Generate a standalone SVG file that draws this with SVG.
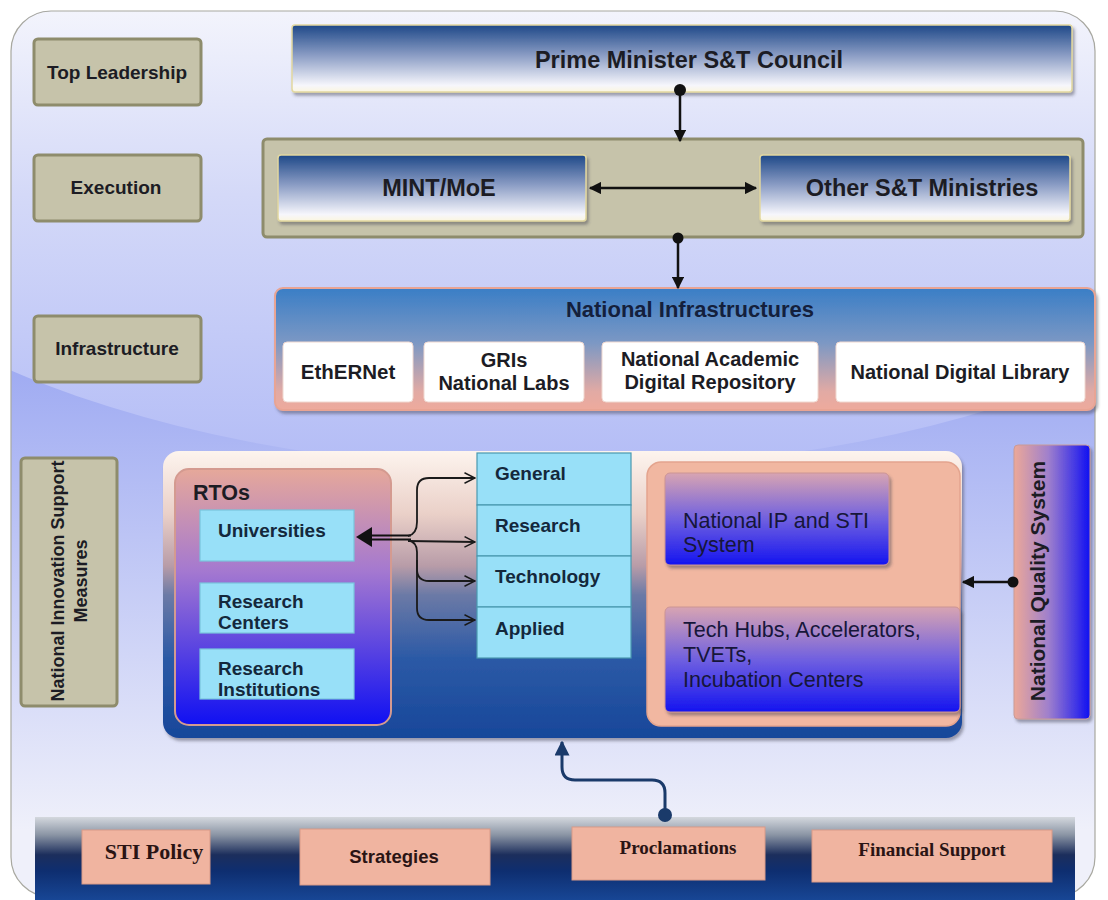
<svg xmlns="http://www.w3.org/2000/svg" width="1108" height="900" viewBox="0 0 1108 900">
<defs>
<style>
.t{font-family:"Liberation Sans",Arial,sans-serif;font-weight:bold;fill:#1c1c24}
.n{font-family:"Liberation Sans",Arial,sans-serif;font-weight:normal;fill:#16163a}
.s{font-family:"Liberation Serif","Times New Roman",serif;font-weight:bold;fill:#2a1414}
.lbl{fill:#c6c3aa;stroke:#8e8c6c;stroke-width:3}
.blue{fill:url(#gBlue);stroke:#e2d8a0;stroke-width:1.5}
.white{fill:#ffffff;stroke:#f0d8d0;stroke-width:1}
.cyan{fill:#98e0f8;stroke:#78c4dc;stroke-width:1.2}
.cell{fill:#98e0f8;stroke:#4a98b0;stroke-width:1.2}
.peach{fill:#f0b4a0;stroke:#d89a88;stroke-width:1}
.ln{fill:none;stroke:#111;stroke-width:2.5}
.br{fill:none;stroke:#1a1a1a;stroke-width:1.8}
.dk{fill:#14283c}
</style>
<linearGradient id="gBase" x1="0" y1="360" x2="0" y2="830" gradientUnits="userSpaceOnUse">
<stop offset="0" stop-color="#9eaaf2"/><stop offset="1" stop-color="#eff0fa"/></linearGradient>
<linearGradient id="gTop" x1="0" y1="10" x2="0" y2="470" gradientUnits="userSpaceOnUse">
<stop offset="0" stop-color="#f3f4fc"/><stop offset="0.4" stop-color="#d4d9f8"/><stop offset="1" stop-color="#b3bcf6"/></linearGradient>
<linearGradient id="gBlue" x1="0" y1="0" x2="0" y2="1">
<stop offset="0" stop-color="#1e4888"/><stop offset="0.45" stop-color="#8a9cc4"/><stop offset="0.9" stop-color="#f6f6fc"/><stop offset="1" stop-color="#fbf6e0"/></linearGradient>
<linearGradient id="gInfra" x1="0" y1="0" x2="0" y2="1">
<stop offset="0" stop-color="#3a7ec6"/><stop offset="0.45" stop-color="#7c98c4"/><stop offset="0.85" stop-color="#e2aaa4"/><stop offset="1" stop-color="#eeaa9c"/></linearGradient>
<linearGradient id="gMid" x1="0" y1="0" x2="0" y2="1">
<stop offset="0" stop-color="#fdf4ee"/><stop offset="0.22" stop-color="#ead0c8"/><stop offset="0.4" stop-color="#b89ca8"/><stop offset="0.5" stop-color="#6c7aa6"/><stop offset="0.72" stop-color="#2c5aa6"/><stop offset="1" stop-color="#17479a"/></linearGradient>
<linearGradient id="gRto" x1="0" y1="0" x2="0" y2="1">
<stop offset="0" stop-color="#e6a89a"/><stop offset="0.4" stop-color="#a478d0"/><stop offset="1" stop-color="#1010f2"/></linearGradient>
<linearGradient id="gIp" x1="0" y1="0" x2="0" y2="1">
<stop offset="0" stop-color="#d8a4b2"/><stop offset="0.5" stop-color="#7060e0"/><stop offset="1" stop-color="#1414f0"/></linearGradient>
<linearGradient id="gNqs" x1="0" y1="0" x2="1" y2="0">
<stop offset="0" stop-color="#eca898"/><stop offset="0.45" stop-color="#a080cc"/><stop offset="1" stop-color="#1010f2"/></linearGradient>
<linearGradient id="gBand" x1="0" y1="0" x2="0" y2="1">
<stop offset="0" stop-color="#d4d8de"/><stop offset="0.2" stop-color="#8a94a4"/><stop offset="0.42" stop-color="#1c2e5c"/><stop offset="0.6" stop-color="#0e2e70"/><stop offset="1" stop-color="#1a4c9e"/></linearGradient>
<clipPath id="clipBg"><rect x="11" y="11" width="1084" height="886" rx="40"/></clipPath>
<filter id="sh" x="-5%" y="-5%" width="110%" height="120%"><feDropShadow dx="2" dy="3" stdDeviation="1.5" flood-color="#404050" flood-opacity="0.45"/></filter>
<marker id="aFill" viewBox="0 0 10 10" refX="9" refY="5" markerWidth="5" markerHeight="5" orient="auto-start-reverse" markerUnits="strokeWidth"><path d="M0,0 L10,5 L0,10 Z" fill="#111"/></marker>
<marker id="aNavy" viewBox="0 0 10 10" refX="9" refY="5" markerWidth="5" markerHeight="5" orient="auto" markerUnits="strokeWidth"><path d="M0,0 L10,5 L0,10 Z" fill="#1a3a6a"/></marker>
<marker id="aOpen" viewBox="0 0 12 12" refX="11" refY="6" markerWidth="7" markerHeight="7" orient="auto" markerUnits="strokeWidth"><path d="M1,1 L11,6 L1,11" fill="none" stroke="#1a1a1a" stroke-width="1.4"/></marker>
</defs>

<g id="background">
<rect x="11" y="11" width="1084" height="886" rx="40" fill="url(#gBase)"/>
<g clip-path="url(#clipBg)"><ellipse cx="554" cy="95" rx="800" ry="375" fill="url(#gTop)"/></g>
<rect x="11" y="11" width="1084" height="886" rx="40" fill="none" stroke="#a8a8a0" stroke-width="1.2"/>
</g>

<g id="lbl-top"><rect class="lbl" x="34" y="39" width="167" height="66" rx="4"/><text class="t" x="117" y="79" font-size="19" text-anchor="middle">Top Leadership</text></g>
<g id="lbl-exec"><rect class="lbl" x="34" y="155" width="167" height="66" rx="4"/><text class="t" x="116" y="194" font-size="19" text-anchor="middle">Execution</text></g>
<g id="lbl-infra"><rect class="lbl" x="34" y="316" width="167" height="66" rx="4"/><text class="t" x="117" y="355" font-size="19" text-anchor="middle">Infrastructure</text></g>
<g id="lbl-nism"><rect class="lbl" x="21" y="458" width="96" height="248" rx="4"/>
<text class="t" font-size="18" text-anchor="middle" transform="translate(64,581) rotate(-90)">National Innovation Support</text>
<text class="t" font-size="18" text-anchor="middle" transform="translate(87,581) rotate(-90)">Measures</text></g>

<g id="pm"><rect class="blue" x="292" y="25" width="780" height="67" rx="3" filter="url(#sh)"/><text class="t" x="689" y="68" font-size="23.5" text-anchor="middle">Prime Minister S&amp;T Council</text></g>

<g id="exec"><rect class="lbl" x="263" y="139" width="820" height="98" rx="4"/></g>
<g id="mint"><rect class="blue" x="278" y="155" width="308" height="66" rx="3" filter="url(#sh)"/><text class="t" x="439" y="196" font-size="23.5" text-anchor="middle">MINT/MoE</text></g>
<g id="other"><rect class="blue" x="760" y="155" width="310" height="66" rx="3" filter="url(#sh)"/><text class="t" x="922" y="196" font-size="23.5" text-anchor="middle">Other S&amp;T Ministries</text></g>

<g id="infra"><rect x="275" y="288" width="820" height="122" rx="8" fill="url(#gInfra)" stroke="#e8a494" stroke-width="2" filter="url(#sh)"/>
<text class="t" x="690" y="317" font-size="22" text-anchor="middle" style="fill:#14203c">National Infrastructures</text></g>
<g id="ethernet"><rect class="white" x="283" y="342" width="130" height="60" rx="4"/><text class="t" x="348" y="379" font-size="20.5" text-anchor="middle">EthERNet</text></g>
<g id="gris"><rect class="white" x="424" y="342" width="160" height="60" rx="4"/><text class="t" x="504" y="367" font-size="20" text-anchor="middle">GRIs</text><text class="t" x="504" y="390" font-size="20" text-anchor="middle">National Labs</text></g>
<g id="nadr"><rect class="white" x="602" y="342" width="216" height="60" rx="4"/><text class="t" x="710" y="366" font-size="20" text-anchor="middle">National Academic</text><text class="t" x="710" y="389" font-size="20" text-anchor="middle">Digital Repository</text></g>
<g id="ndl"><rect class="white" x="836" y="342" width="249" height="60" rx="4"/><text class="t" x="960" y="379" font-size="20" text-anchor="middle">National Digital Library</text></g>

<g id="support"><rect x="163" y="451" width="799" height="287" rx="16" fill="url(#gMid)" filter="url(#sh)"/></g>

<g id="rtos"><rect x="175" y="469" width="216" height="256" rx="14" fill="url(#gRto)" stroke="#d49a90" stroke-width="2"/>
<text class="t" x="193" y="500" font-size="21.5">RTOs</text></g>
<g id="universities"><rect class="cyan" x="200" y="510" width="154" height="51"/><text class="t dk" x="218" y="537" font-size="19" style="fill:#14283c">Universities</text></g>
<g id="rcenters"><rect class="cyan" x="200" y="583" width="154" height="50"/><text class="t" x="218" y="608" font-size="19" style="fill:#14283c">Research</text><text class="t" x="218" y="629" font-size="19" style="fill:#14283c">Centers</text></g>
<g id="rinst"><rect class="cyan" x="200" y="649" width="154" height="50"/><text class="t" x="218" y="675" font-size="19" style="fill:#14283c">Research</text><text class="t" x="218" y="696" font-size="19" style="fill:#14283c">Institutions</text></g>

<g id="general"><rect class="cell" x="477" y="453" width="154" height="52"/><text class="t" x="495" y="480" font-size="19" style="fill:#14283c">General</text></g>
<g id="research"><rect class="cell" x="477" y="505" width="154" height="51"/><text class="t" x="495" y="532" font-size="19" style="fill:#14283c">Research</text></g>
<g id="technology"><rect class="cell" x="477" y="556" width="154" height="51"/><text class="t" x="495" y="583" font-size="19" style="fill:#14283c">Technology</text></g>
<g id="applied"><rect class="cell" x="477" y="607" width="154" height="51"/><text class="t" x="495" y="635" font-size="19" style="fill:#14283c">Applied</text></g>

<g id="rightbox"><rect x="647" y="462" width="313" height="264" rx="14" fill="#f1b7a1" stroke="#e4a48e" stroke-width="1.5"/></g>
<g id="ipsys"><rect x="665" y="473" width="224" height="92" rx="5" fill="url(#gIp)" stroke="#cc9494" stroke-width="1" filter="url(#sh)"/>
<text class="n" x="683" y="528" font-size="21.5">National IP and STI</text><text class="n" x="683" y="552" font-size="21.5">System</text></g>
<g id="techhubs"><rect x="665" y="607" width="295" height="105" rx="5" fill="url(#gIp)" stroke="#cc9494" stroke-width="1" filter="url(#sh)"/>
<text class="n" x="683" y="637" font-size="21.5">Tech Hubs, Accelerators,</text><text class="n" x="683" y="662" font-size="21.5">TVETs,</text><text class="n" x="683" y="687" font-size="21.5">Incubation Centers</text></g>

<g id="nqs"><rect x="1014" y="445" width="76" height="274" rx="4" fill="url(#gNqs)" stroke="#c89a98" stroke-width="1" filter="url(#sh)"/>
<text class="t" font-size="21" text-anchor="middle" transform="translate(1045,581) rotate(-90)">National Quality System</text></g>

<g id="band"><rect x="35" y="817" width="1040" height="90" fill="url(#gBand)"/></g>
<g id="sti"><rect class="peach" x="82" y="830" width="128" height="54"/><text class="s" x="154" y="859" font-size="22" text-anchor="middle">STI Policy</text></g>
<g id="strat"><rect class="peach" x="300" y="829" width="190" height="56"/><text class="t" x="394" y="863" font-size="18.5" text-anchor="middle" style="fill:#2a1414">Strategies</text></g>
<g id="procl"><rect class="peach" x="572" y="827" width="193" height="53"/><text class="s" x="678" y="854" font-size="19" text-anchor="middle">Proclamations</text></g>
<g id="fin"><rect class="peach" x="812" y="830" width="240" height="52"/><text class="s" x="932" y="856" font-size="19" text-anchor="middle">Financial Support</text></g>

<g id="connectors">
<circle cx="680" cy="90" r="6" fill="#111"/>
<line class="ln" x1="680" y1="90" x2="680" y2="141" marker-end="url(#aFill)"/>
<line class="ln" x1="590" y1="188" x2="756" y2="188" marker-start="url(#aFill)" marker-end="url(#aFill)"/>
<circle cx="678" cy="238" r="5.5" fill="#111"/>
<line class="ln" x1="678" y1="238" x2="678" y2="288" marker-end="url(#aFill)"/>
<circle cx="1013" cy="582" r="5.5" fill="#111"/>
<line class="ln" x1="1013" y1="582" x2="963" y2="582" marker-end="url(#aFill)"/>
<path d="M356,537 L372,527 L372,547 Z" fill="#111"/>
<line x1="370" y1="535.5" x2="411" y2="535.5" stroke="#111" stroke-width="2"/>
<line x1="370" y1="539.5" x2="411" y2="539.5" stroke="#111" stroke-width="2"/>
<path class="br" d="M408,536 Q417,534 417,522 L417,490 Q417,478 429,478 L475,478" marker-end="url(#aOpen)"/>
<path class="br" d="M408,541 L475,542" marker-end="url(#aOpen)"/>
<path class="br" d="M408,540 Q417,542 417,552 L417,569 Q417,581 429,581 L475,581" marker-end="url(#aOpen)"/>
<path class="br" d="M417,560 L417,608 Q417,620 429,620 L475,620" marker-end="url(#aOpen)"/>
<circle cx="665" cy="815" r="7" fill="#1a3a6a"/>
<path d="M665,815 L665,793 Q665,780 652,780 L575,780 Q562,780 562,767 L562,742" fill="none" stroke="#1a3a6a" stroke-width="3" marker-end="url(#aNavy)"/>
</g>
</svg>
